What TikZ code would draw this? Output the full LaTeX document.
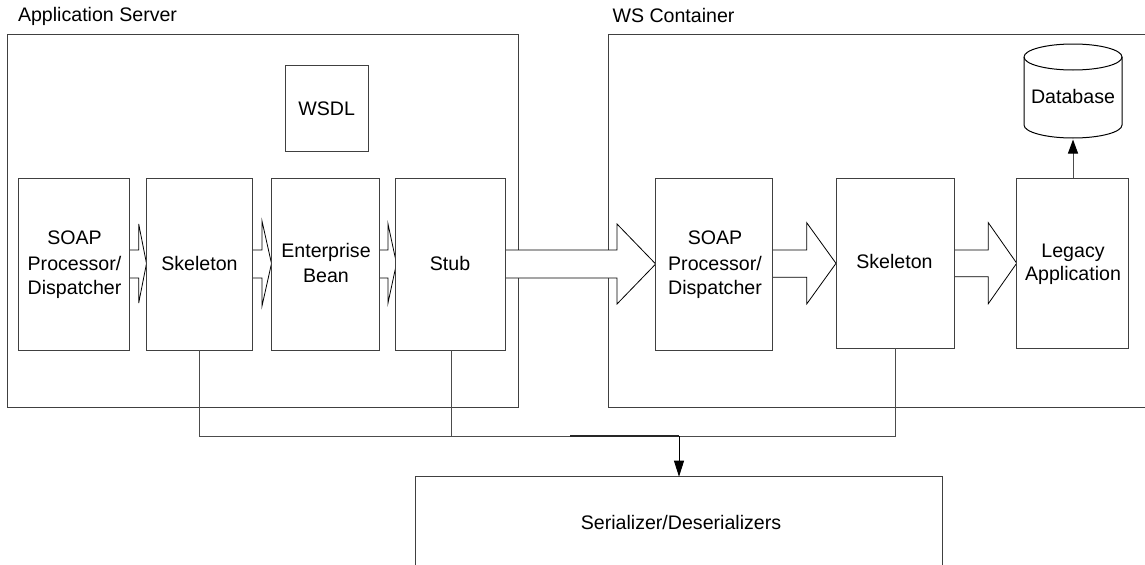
\documentclass[tikz,border=0pt]{standalone}
\usepackage{fontspec}
\setmainfont{Liberation Sans}
\usetikzlibrary{arrows.meta}
\newcommand{\fs}{\fontsize{14.7}{17.5}\selectfont}
\tikzset{
  x=0.75pt,y=-0.75pt,
  boxline/.style={draw=black!75,line width=0.75pt},
  blockarrow/.style={draw=black,line width=0.6pt,fill=white,line join=miter},
  conn/.style={draw=black!70,line width=0.75pt},
  tipdown/.style={-{Triangle[length=12pt,width=7.5pt,black]}},
  tipup/.style={-{Triangle[length=10.5pt,width=7.5pt,black]}},
  lab/.style={font=\fs,inner sep=0pt,outer sep=0pt,align=center,anchor=base},
  box/.style={boxline,fill=white,inner sep=0pt,outer sep=0pt},
}
\newcommand{\boxnode}[5]{% name x0 y0 x1 y1
  \node[box,minimum width=#4*0.75pt-#2*0.75pt,minimum height=#5*0.75pt-#3*0.75pt,anchor=north west] (#1) at (#2,#3) {};}
\newcommand{\barrow}[7]{% from, base, tip, shaft top, shaft bottom, head top, head bottom
  \draw[blockarrow] (#1,#4) -- (#2,#4) -- (#2,#6) -- (#3,{(#6+#7)/2}) -- (#2,#7) -- (#2,#5) -- (#1,#5);}
\begin{document}
\begin{tikzpicture}
\useasboundingbox (0,0) rectangle (1145,564);
\begin{scope}
\clip (0,0) rectangle (1145,564);
% containers
\boxnode{as}{7}{34.5}{518}{407}
\boxnode{ws}{608}{34.5}{1208}{407}
\node[lab,anchor=base west] (aslab) at (18,21.7) {Application Server};
\node[lab,anchor=base west] (wslab) at (612.5,22.7) {WS Container};
% junctions
\coordinate (j1) at (199,436);
\coordinate (j2) at (451,436);
\coordinate (j3) at (679,436);
\coordinate (j4) at (895,436);
% block arrows (box edges are drawn over them)
\fill[white] (505.5,250) rectangle (617,278);
\barrow{129.5}{138.7}{146.5}{250}{278}{224}{303}
\barrow{252}{262}{271.5}{250}{278}{221}{306}
\barrow{379}{388}{396.5}{250}{278}{224}{303}
\barrow{505.5}{617}{655.7}{250}{278}{224}{304}
\barrow{772}{806.7}{836}{250}{277.3}{222.7}{304}
\barrow{954}{988.3}{1016.7}{250}{276.7}{222.7}{303.7}
% boxes
\boxnode{wsdl}{285}{65.5}{368.5}{151.5}
\boxnode{soapa}{18.5}{178}{129.5}{350}
\boxnode{skela}{146}{178}{252}{350}
\boxnode{ejb}{271.5}{178}{379}{350}
\boxnode{stub}{395.5}{178}{505.5}{350}
\boxnode{soapb}{655.7}{178}{772}{350}
\boxnode{skelb}{836}{178}{954}{348.3}
\boxnode{legacy}{1016.7}{178}{1128.3}{348.3}
\boxnode{ser}{415}{476.7}{942.5}{620}
% labels
\node[lab] (wsdllab) at (326.7,115) {WSDL};
\node[lab] (soapalab) at (74.5,294) {SOAP\\[1.8pt]Processor/\\Dispatcher};
\node[lab] (skelalab) at (199.5,270.7) {Skeleton};
\node[lab] (ejblab) at (326,282.7) {Enterprise\\[1.2pt]Bean};
\node[lab] (stublab) at (450,270.7) {Stub};
\node[lab] (soapblab) at (715,294) {SOAP\\[1.8pt]Processor/\\Dispatcher};
\node[lab] (skelblab) at (894.5,268) {Skeleton};
\node[lab] (legacylab) at (1073,280.7) {Legacy\\Application};
\node[lab] (serlab) at (681,529) {Serializer/Deserializers};
% connectors
\draw[conn] (skela.south -| j1) -- (j1) -- (j4) -- (skelb.south -| j4);
\draw[conn] (stub.south -| j2) -- (j2);
\draw[draw=black!85,line width=0.8pt] (570,436) -- (j3);
\draw[draw=black,line width=0.65pt,tipdown] (j3) -- (ser.north -| j3);
% database
\path (1024,57) coordinate (dbl) (1122,57) coordinate (dbr) (1024,125) coordinate (dbbl) (1122,125) coordinate (dbbr);
\draw[draw=black,line width=0.75pt,fill=white] (dbl) arc[start angle=180,end angle=0,x radius=49,y radius=-13] -- (dbbr) arc[start angle=0,end angle=-180,x radius=49,y radius=-13] -- cycle;
\draw[draw=black,line width=0.75pt] (dbl) arc[start angle=180,end angle=360,x radius=49,y radius=-13];
\coordinate (dbbot) at (1073,139.5);
\node[lab] (dblab) at (1073,103.5) {Database};
\draw[conn,tipup] (legacy.north -| dbbot) -- (dbbot);
\end{scope}
\end{tikzpicture}
\end{document}
